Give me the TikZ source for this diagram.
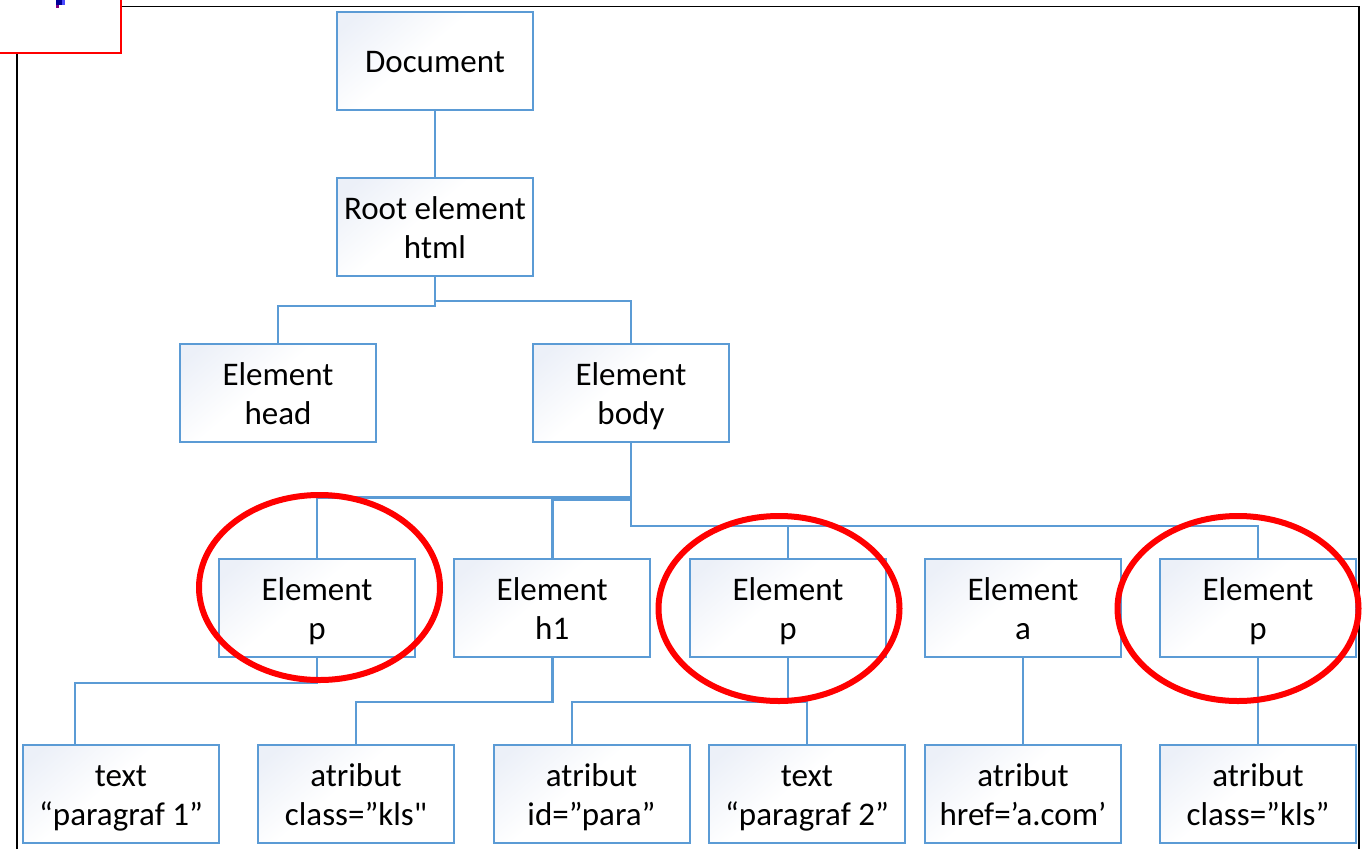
\documentclass[tikz,border=0pt]{standalone}
\usepackage{fontspec}
\setmainfont{Carlito}
\newfontfamily\straightfont{Carlito}
\usetikzlibrary{shapes.geometric}
\definecolor{boxblue}{HTML}{5B9BD5}
\definecolor{shadeblue}{HTML}{ECF0F8}
\pgfdeclareverticalshading{boxshade}{100bp}{color(0bp)=(white);color(55bp)=(white);color(80bp)=(shadeblue);color(100bp)=(shadeblue)}
\newcommand{\lineone}[1]{\rule[-8pt]{0pt}{39.5pt}#1}
\newcommand{\twolines}[2]{\lineone{#1}\\\lineone{#2}}
\tikzset{
  treebox/.style={draw=boxblue,line width=2pt,shading=boxshade,shading angle=40,minimum width=196pt,minimum height=98pt,inner sep=0pt,align=center,font=\fontsize{33}{39.5}\selectfont,text=black},
  link/.style={draw=boxblue,line width=2.6pt,line join=miter},
  ring/.style={draw=red,line width=6pt}
}
\begin{document}
\begin{tikzpicture}[x=1pt,y=-1pt]
\useasboundingbox (0,0) rectangle (1365,849);
\fill[white] (0,0) rectangle (1365,849);
\draw[black,line width=1.8pt] (17,849) -- (17,6.5) -- (1359,6.5) -- (1359,849);
\draw[red,line width=1.8pt,fill=white] (-5,53) -- (121,53) -- (121,-5) -- (-5,-5);
\fill[blue!60!black] (56,0) rectangle (62,5);
\fill[blue!70!white] (62,0) rectangle (65,5);
\fill[violet] (56,5) rectangle (59,8);
\node[treebox] (doc) at (435,61) {\lineone{Document}};
\node[treebox] (root) at (435,227) {\twolines{Root element}{html}};
\node[treebox] (head) at (278,393) {\twolines{Element}{head}};
\node[treebox] (body) at (631,393) {\twolines{Element}{body}};
\node[treebox] (p1) at (317,608) {\twolines{Element}{p}};
\node[treebox] (h1) at (552.2,608) {\twolines{Element}{h1}};
\node[treebox] (p2) at (788,608) {\twolines{Element}{p}};
\node[treebox] (a) at (1023,608) {\twolines{Element}{a}};
\node[treebox] (p3) at (1258,608) {\twolines{Element}{p}};
\node[treebox] (t1) at (121,794) {\twolines{text}{“paragraf 1”}};
\node[treebox] (a1) at (356,794) {\twolines{atribut}{class=”kls{\straightfont "}}};
\node[treebox] (a2) at (591.5,794) {\twolines{atribut}{id=”para”}};
\node[treebox] (t2) at (807,794) {\twolines{text}{“paragraf 2”}};
\node[treebox] (a3) at (1023,794) {\twolines{atribut}{href=’a.com’}};
\node[treebox] (a4) at (1258,794) {\twolines{atribut}{class=”kls”}};
\draw[link] (doc.south) -- (root.north);
\draw[link] (root.south) -- ++(0,29) -| (head.north);
\draw[link] (root.south) -- ++(0,24) -| (body.north);
\draw[link] (body.south) -- ++(0,54.5) -| (p1.north);
\draw[link] (body.south) -- ++(0,56.5) -| (h1.north);
\draw[link] (body.south) -- ++(0,83) -| (p2.north);
\draw[link] (body.south) -- ++(0,83) -| (p3.north);
\draw[link] (p1.south) -- ++(0,25) -| ([xshift=-46pt]t1.north);
\draw[link] (h1.south) -- ++(0,44) -| (a1.north);
\draw[link] (p2.south) -- ++(0,44) -| ([xshift=-19.5pt]a2.north);
\draw[link] (p2.south) -- ++(0,44) -| (t2.north);
\draw[link] (a.south) -- (a3.north);
\draw[link] (p3.south) -- (a4.north);
\node[ring,ellipse,minimum width=241pt,minimum height=185pt,inner sep=0pt] (r1) at (319.5,587.5) {};
\node[ring,ellipse,minimum width=241pt,minimum height=185pt,inner sep=0pt] (r2) at (779,608.5) {};
\node[ring,ellipse,minimum width=241pt,minimum height=185pt,inner sep=0pt] (r3) at (1238,608.5) {};
\end{tikzpicture}
\end{document}
